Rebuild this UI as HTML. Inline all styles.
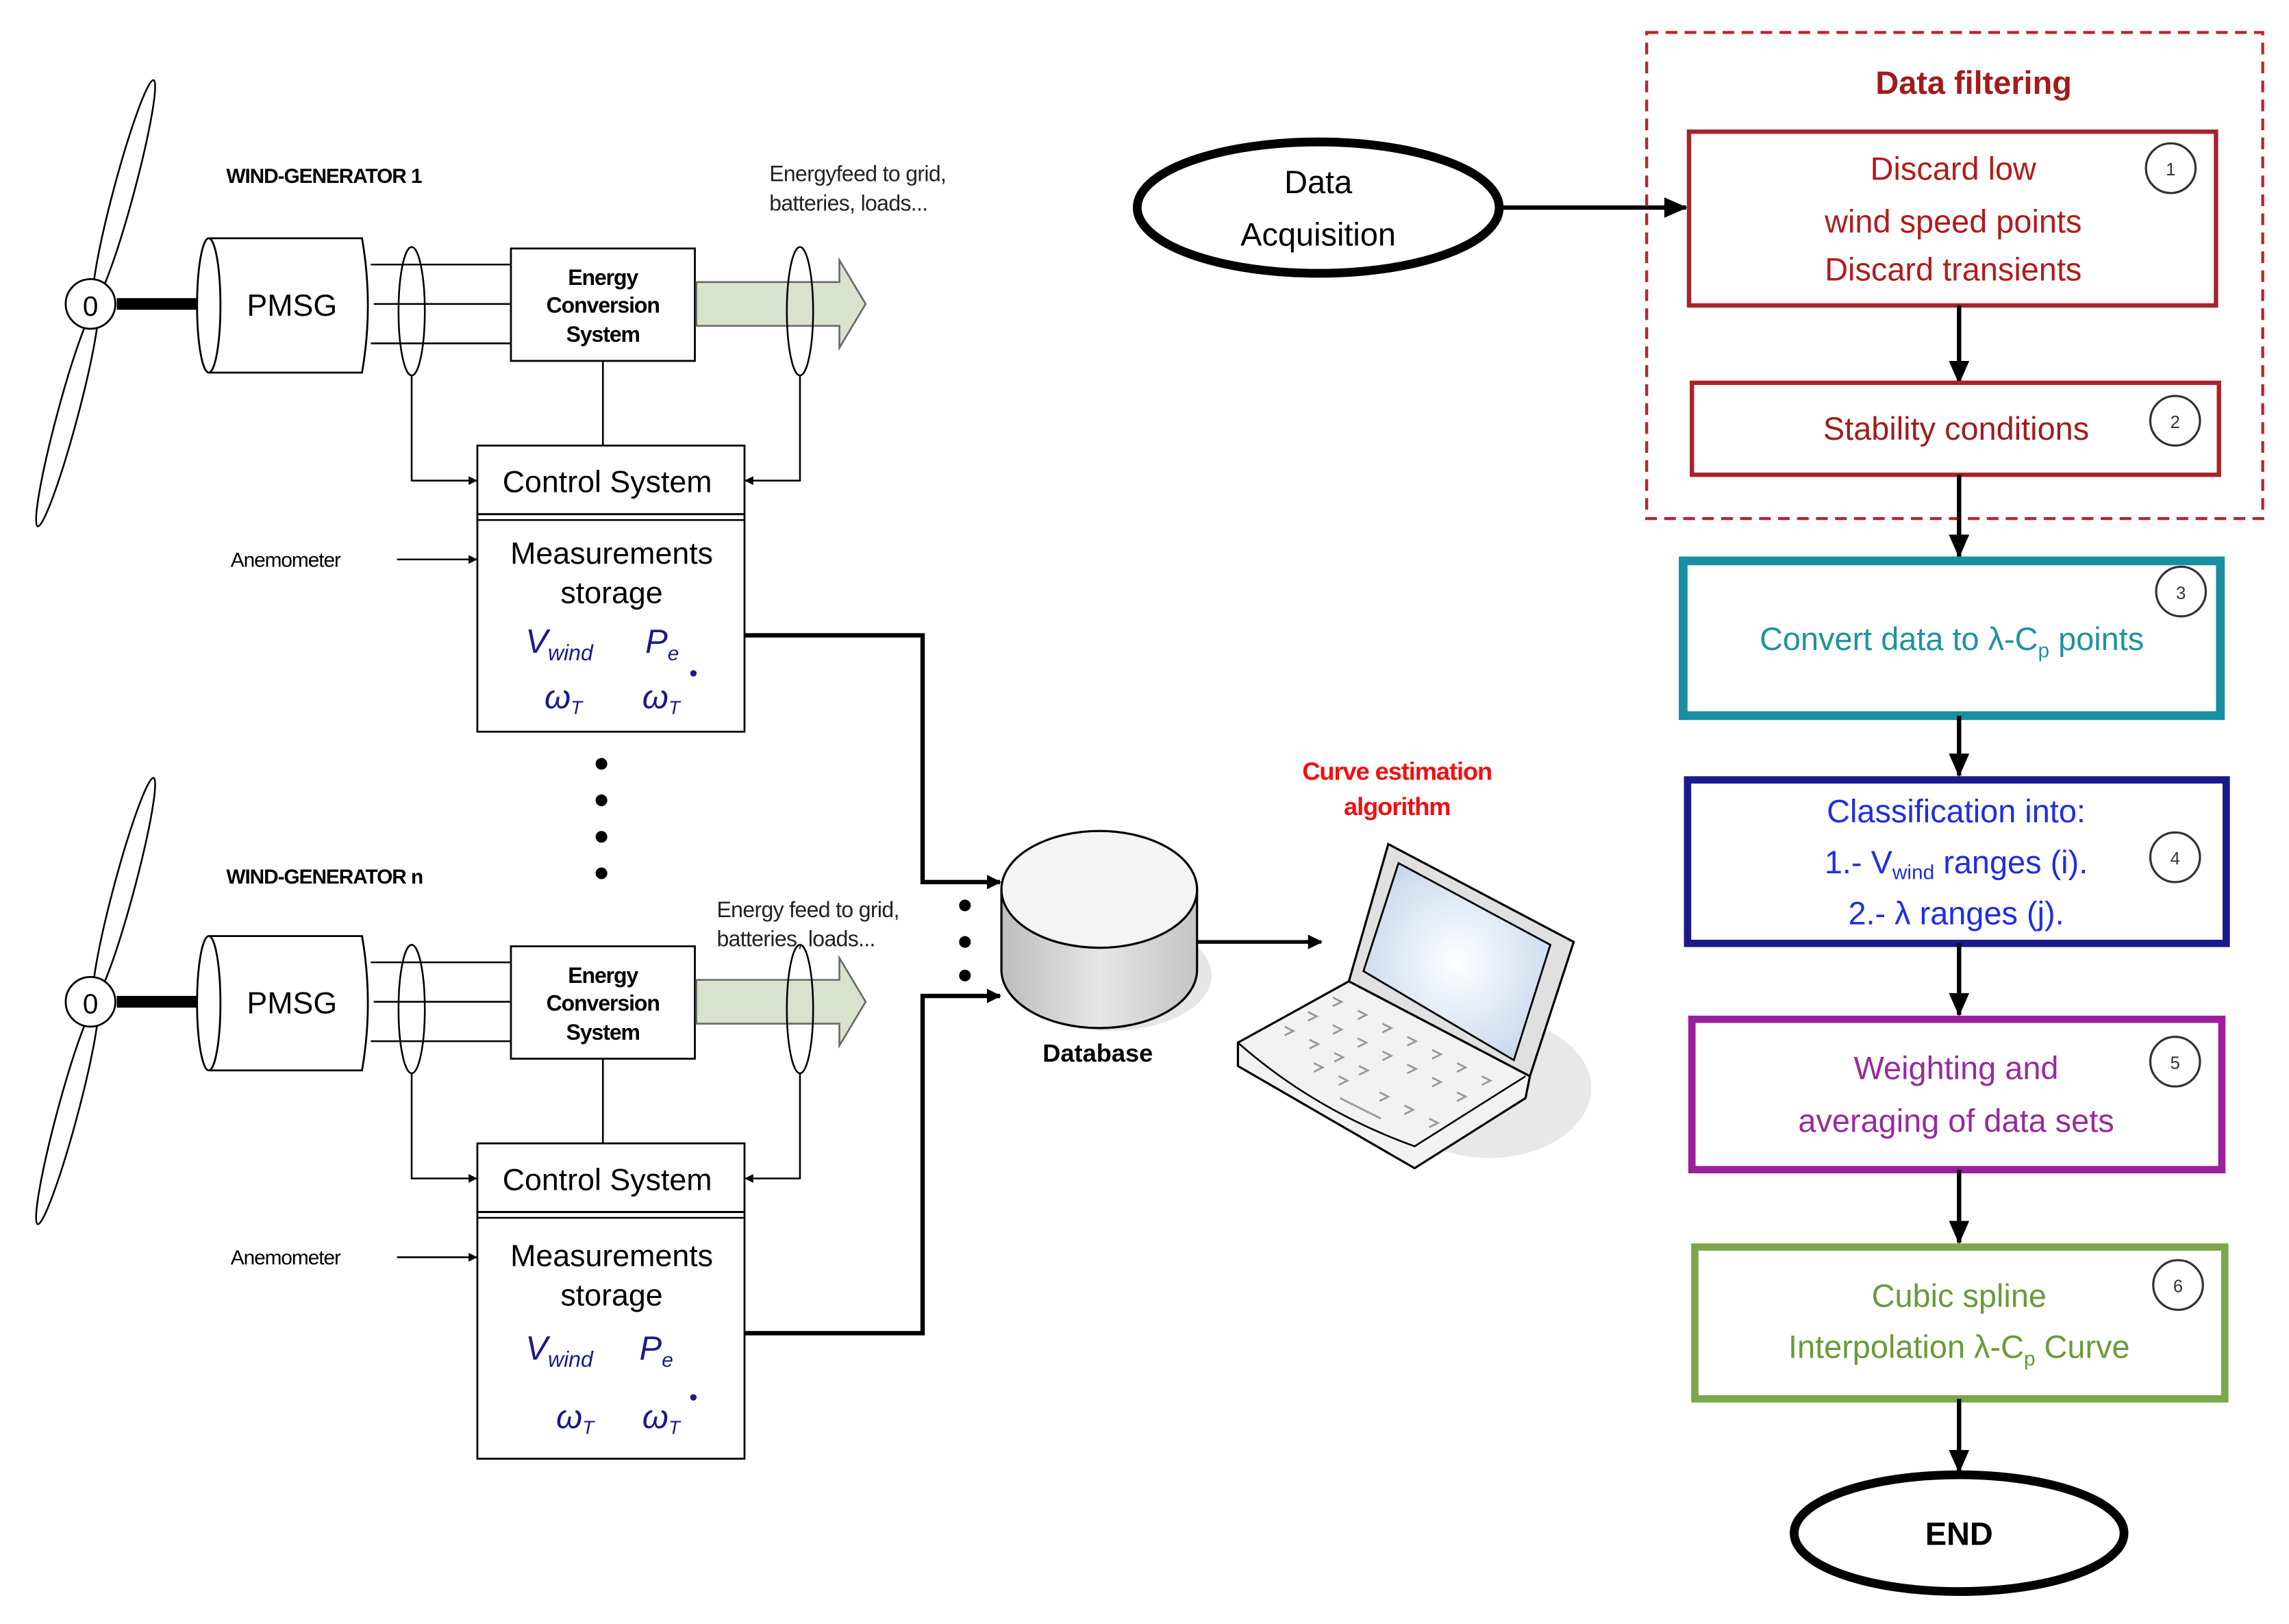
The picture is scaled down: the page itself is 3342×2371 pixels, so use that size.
<!DOCTYPE html>
<html><head><meta charset="utf-8"><style>html,body{margin:0;padding:0;background:#fff}svg{display:block}</style></head><body>
<svg xmlns="http://www.w3.org/2000/svg" width="3342" height="2371" viewBox="0 0 1568 1112">
<defs>
<marker id="ah" markerWidth="10" markerHeight="10" refX="9" refY="5" orient="auto" markerUnits="userSpaceOnUse" viewBox="0 0 10 10"><path d="M0,0 L10,5 L0,10 z" fill="#000"/></marker>
<marker id="as" markerWidth="6" markerHeight="6" refX="6" refY="3" orient="auto" markerUnits="userSpaceOnUse"><path d="M0,0 L6,3 L0,6 z" fill="#000"/></marker>
<marker id="ab" markerWidth="16" markerHeight="14" refX="15" refY="7" orient="auto" markerUnits="userSpaceOnUse"><path d="M0,0 L16,7 L0,14 z" fill="#000"/></marker>
<linearGradient id="cyl" x1="0" x2="1"><stop offset="0" stop-color="#bdbdbd"/><stop offset="0.5" stop-color="#e6e6e6"/><stop offset="1" stop-color="#c4c4c4"/></linearGradient>
<radialGradient id="scr" cx="0.5" cy="0.5" r="0.6"><stop offset="0" stop-color="#fff"/><stop offset="1" stop-color="#c4d6ec"/></radialGradient>
</defs>
<g font-family="Liberation Sans, sans-serif">
<g id="gen">
  <ellipse cx="85" cy="130" rx="7" ry="78" transform="rotate(15 85 130)" fill="#fff" stroke="#000" stroke-width="1.2"/>
  <ellipse cx="46" cy="285" rx="7" ry="78" transform="rotate(15 46 285)" fill="#fff" stroke="#000" stroke-width="1.2"/>
  <line x1="80" y1="208" x2="143" y2="208" stroke="#000" stroke-width="8"/>
  <circle cx="62" cy="208" r="17" fill="#fff" stroke="#000" stroke-width="1.3"/>
  <text x="62" y="216" font-size="19" text-anchor="middle">0</text>
  <path d="M143,163 L248,163 Q256,209 248,255 L143,255" fill="#fff" stroke="#000" stroke-width="1.3"/>
  <ellipse cx="143" cy="209" rx="8" ry="46" fill="#fff" stroke="#000" stroke-width="1.3"/>
  <text x="200" y="216" font-size="21" text-anchor="middle">PMSG</text>
  <g stroke="#000" stroke-width="1.2"><line x1="254" y1="181" x2="350" y2="181"/><line x1="256" y1="208" x2="350" y2="208"/><line x1="254" y1="235" x2="350" y2="235"/></g>
  <ellipse cx="282" cy="213" rx="9" ry="44" fill="none" stroke="#000" stroke-width="1.2"/>
  <rect x="350" y="170" width="126" height="77" fill="#fff" stroke="#000" stroke-width="1.3"/>
  <text font-size="15" font-weight="bold" text-anchor="middle" letter-spacing="-0.5"><tspan x="413" y="195">Energy</tspan><tspan x="413" y="214">Conversion</tspan><tspan x="413" y="234">System</tspan></text>
  <path d="M477,193 L575,193 L575,178 L593,208 L575,238 L575,223 L477,223 z" fill="#d9e2cc" stroke="#666" stroke-width="1.2"/>
  <ellipse cx="548" cy="213" rx="9" ry="44" fill="none" stroke="#000" stroke-width="1.2"/>
  <line x1="413" y1="247" x2="413" y2="305" stroke="#000" stroke-width="1.2"/>
  <path d="M282,257 L282,329 L327,329" fill="none" stroke="#000" stroke-width="1.2" marker-end="url(#as)"/>
  <path d="M548,257 L548,329 L510,329" fill="none" stroke="#000" stroke-width="1.2" marker-end="url(#as)"/>
  <rect x="327" y="305" width="183" height="47" fill="#fff" stroke="#000" stroke-width="1.3"/>
  <line x1="327" y1="356" x2="510" y2="356" stroke="#000" stroke-width="1.2"/>
  <text x="416" y="337" font-size="21" text-anchor="middle">Control System</text>
  <text x="158" y="388" font-size="14" letter-spacing="-0.5">Anemometer</text>
  <line x1="272" y1="383" x2="327" y2="383" stroke="#000" stroke-width="1.2" marker-end="url(#as)"/>
</g>
<use href="#gen" transform="translate(0,478)"/>
<!-- measurement boxes -->
<rect x="327" y="352" width="183" height="149" fill="none" stroke="#000" stroke-width="1.3"/>
<rect x="327" y="830" width="183" height="169" fill="none" stroke="#000" stroke-width="1.3"/>
<text font-size="21" text-anchor="middle"><tspan x="419" y="386">Measurements</tspan><tspan x="419" y="413">storage</tspan><tspan x="419" y="867">Measurements</tspan><tspan x="419" y="894">storage</tspan></text>
<g fill="#1a1a8c" font-style="italic">
  <text x="360" y="447" font-size="23">V<tspan font-size="15" dy="5">wind</tspan></text>
  <text x="442" y="447" font-size="23">P<tspan font-size="14" dy="5">e</tspan></text>
  <text x="373" y="485" font-size="23">ω<tspan font-size="13" dy="4">T</tspan></text>
  <text x="440" y="485" font-size="23">ω<tspan font-size="13" dy="4">T</tspan></text>
  <text x="360" y="931" font-size="23">V<tspan font-size="15" dy="5">wind</tspan></text>
  <text x="438" y="931" font-size="23">P<tspan font-size="14" dy="5">e</tspan></text>
  <text x="381" y="978" font-size="23">ω<tspan font-size="13" dy="4">T</tspan></text>
  <text x="440" y="978" font-size="23">ω<tspan font-size="13" dy="4">T</tspan></text>
</g>
<circle cx="475" cy="461" r="2.2" fill="#1a1a8c"/>
<circle cx="475" cy="957" r="2.2" fill="#1a1a8c"/>
<text x="155" y="125" font-size="14" font-weight="bold" letter-spacing="-0.5">WIND-GENERATOR 1</text>
<text x="155" y="605" font-size="14" font-weight="bold" letter-spacing="-0.5">WIND-GENERATOR n</text>
<text font-size="15" fill="#222" letter-spacing="-0.3"><tspan x="527" y="124">Energyfeed to grid,</tspan><tspan x="527" y="144">batteries, loads...</tspan></text>
<text font-size="15" fill="#222" letter-spacing="-0.3"><tspan x="491" y="628">Energy feed to grid,</tspan><tspan x="491" y="648">batteries, loads...</tspan></text>
<g fill="#000"><circle cx="412" cy="523" r="4"/><circle cx="412" cy="548" r="4"/><circle cx="412" cy="573" r="4"/><circle cx="412" cy="598" r="4"/>
<circle cx="661" cy="620" r="4"/><circle cx="661" cy="645" r="4"/><circle cx="661" cy="668" r="4"/></g>
<path d="M510,435 L632,435 L632,604 L685,604" fill="none" stroke="#000" stroke-width="3" marker-end="url(#ah)"/>
<path d="M510,913 L632,913 L632,682 L685,682" fill="none" stroke="#000" stroke-width="3" marker-end="url(#ah)"/>
<ellipse cx="760" cy="668" rx="70" ry="38" fill="#e6e6e6"/>
<path d="M686,609 L686,664 A67,40 0 0 0 820,664 L820,609 z" fill="url(#cyl)" stroke="#000" stroke-width="1.5"/>
<ellipse cx="753" cy="609" rx="67" ry="40" fill="#f4f4f4" stroke="#000" stroke-width="1.5"/>
<text x="752" y="727" font-size="17" font-weight="bold" text-anchor="middle">Database</text>
<line x1="820" y1="645" x2="905" y2="645" stroke="#000" stroke-width="2.5" marker-end="url(#ah)"/>
<!-- laptop -->
<ellipse cx="1020" cy="745" rx="70" ry="48" fill="#e8e8e8"/>
<path d="M924,672 L951,578 L1078,645 L1048,737 z" fill="#e0e0e0" stroke="#000" stroke-width="1.5"/>
<path d="M934,665 L958,591 L1062,647 L1037,726 z" fill="url(#scr)" stroke="#000" stroke-width="1.3"/>
<path d="M848,714 L924,672 L1048,737 L1045,752 L969,800 L848,730 z" fill="#f2f2f2" stroke="#000" stroke-width="1.5"/>
<path d="M848,714 Q900,760 969,785 L1045,737" fill="none" stroke="#000" stroke-width="1.2"/>
<g stroke="#999" stroke-width="1.3" fill="none">
<path d="M913,683 l6,3 l-6,3 M930,692 l6,3 l-6,3 M947,701 l6,3 l-6,3 M964,710 l6,3 l-6,3 M981,719 l6,3 l-6,3
M896,693 l6,3 l-6,3 M913,702 l6,3 l-6,3 M930,711 l6,3 l-6,3 M947,720 l6,3 l-6,3 M964,729 l6,3 l-6,3 M998,728 l6,3 l-6,3
M880,703 l6,3 l-6,3 M897,712 l6,3 l-6,3 M914,721 l6,3 l-6,3 M931,730 l6,3 l-6,3 M981,738 l6,3 l-6,3 M1015,737 l6,3 l-6,3
M900,728 l6,3 l-6,3 M917,737 l6,3 l-6,3 M945,748 l6,3 l-6,3 M962,757 l6,3 l-6,3 M998,748 l6,3 l-6,3
M918,752 l28,14 M979,766 l6,3 l-6,3"/></g>
<text font-size="17" font-weight="bold" fill="#f01010" text-anchor="middle" letter-spacing="-0.5"><tspan x="957" y="534">Curve estimation</tspan><tspan x="957" y="558">algorithm</tspan></text>
<!-- flowchart -->
<ellipse cx="903" cy="142" rx="124" ry="45" fill="#fff" stroke="#000" stroke-width="6"/>
<text font-size="22" text-anchor="middle"><tspan x="903" y="132">Data</tspan><tspan x="903" y="168">Acquisition</tspan></text>
<line x1="1028" y1="142" x2="1155" y2="142" stroke="#000" stroke-width="3" marker-end="url(#ab)"/>
<rect x="1128" y="22" width="422" height="333" fill="none" stroke="#c0202a" stroke-width="2" stroke-dasharray="8,5"/>
<text x="1352" y="64" font-size="22" font-weight="bold" fill="#a01c1c" text-anchor="middle">Data filtering</text>
<rect x="1157" y="90" width="361" height="119" fill="#fff" stroke="#a8232a" stroke-width="3"/>
<text font-size="22" fill="#b01c1c" text-anchor="middle"><tspan x="1338" y="123">Discard low</tspan><tspan x="1338" y="159">wind speed points</tspan><tspan x="1338" y="192">Discard transients</tspan></text>
<line x1="1342" y1="209" x2="1342" y2="262" stroke="#000" stroke-width="3" marker-end="url(#ab)"/>
<rect x="1159" y="262" width="361" height="63" fill="#fff" stroke="#a8232a" stroke-width="3"/>
<text x="1340" y="301" font-size="22" fill="#a01c1c" text-anchor="middle">Stability conditions</text>
<line x1="1342" y1="325" x2="1342" y2="381" stroke="#000" stroke-width="3" marker-end="url(#ab)"/>
<rect x="1153" y="384" width="368" height="106" fill="#fff" stroke="#1a8fa0" stroke-width="6"/>
<text x="1337" y="445" font-size="22" fill="#1d93a0" text-anchor="middle">Convert data to λ-C<tspan font-size="14" dy="5">p</tspan><tspan dy="-5"> points</tspan></text>
<line x1="1342" y1="490" x2="1342" y2="531" stroke="#000" stroke-width="3" marker-end="url(#ab)"/>
<rect x="1156" y="534" width="369" height="112" fill="#fff" stroke="#1a1a8c" stroke-width="5"/>
<text font-size="22" fill="#1f2ee0" text-anchor="middle"><tspan x="1340" y="563">Classification into:</tspan><tspan x="1340" y="598">1.- V<tspan font-size="14" dy="4">wind</tspan><tspan dy="-4"> ranges (i).</tspan></tspan><tspan x="1340" y="633">2.- λ ranges (j).</tspan></text>
<line x1="1342" y1="646" x2="1342" y2="695" stroke="#000" stroke-width="3" marker-end="url(#ab)"/>
<rect x="1159" y="698" width="363" height="103" fill="#fff" stroke="#9b1f9e" stroke-width="5"/>
<text font-size="22" fill="#9a2a9a" text-anchor="middle"><tspan x="1340" y="739">Weighting and</tspan><tspan x="1340" y="775">averaging of data sets</tspan></text>
<line x1="1342" y1="801" x2="1342" y2="851" stroke="#000" stroke-width="3" marker-end="url(#ab)"/>
<rect x="1161" y="854" width="363" height="104" fill="#fff" stroke="#7aa84a" stroke-width="5"/>
<text font-size="22" fill="#6a9a3a" text-anchor="middle"><tspan x="1342" y="895">Cubic spline</tspan><tspan x="1342" y="930">Interpolation λ-C<tspan font-size="14" dy="5">p</tspan><tspan dy="-5"> Curve</tspan></tspan></text>
<line x1="1342" y1="958" x2="1342" y2="1008" stroke="#000" stroke-width="3" marker-end="url(#ab)"/>
<ellipse cx="1342" cy="1050" rx="113" ry="40" fill="#fff" stroke="#000" stroke-width="6"/>
<text x="1342" y="1058" font-size="22" font-weight="bold" text-anchor="middle">END</text>
<g fill="#fff" stroke="#333" stroke-width="1.5">
<circle cx="1487" cy="115" r="17"/><circle cx="1490" cy="288" r="17"/><circle cx="1494" cy="405" r="17"/><circle cx="1490" cy="587" r="17"/><circle cx="1490" cy="727" r="17"/><circle cx="1492" cy="880" r="17"/></g>
<g font-size="12" text-anchor="middle" fill="#333"><text x="1487" y="120">1</text><text x="1490" y="293">2</text><text x="1494" y="410">3</text><text x="1490" y="592">4</text><text x="1490" y="732">5</text><text x="1492" y="885">6</text></g>
</g>
</svg>
</body></html>
